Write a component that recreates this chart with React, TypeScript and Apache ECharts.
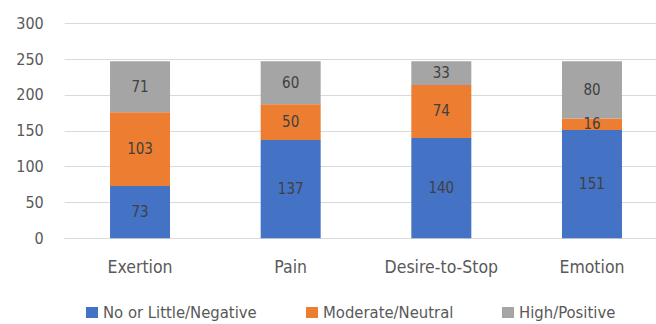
import React, { useEffect, useRef } from "react";
import * as echarts from "echarts";

const categories = ["Exertion", "Pain", "Desire-to-Stop", "Emotion"];
const seriesNames = ["No or Little/Negative", "Moderate/Neutral", "High/Positive"];
const lowValues = [73, 137, 140, 151];
const moderateValues = [103, 50, 74, 16];
const highValues = [71, 60, 33, 80];
const yTicks = { min: 0, max: 300, interval: 50 };

const FONT = "'DejaVu Sans Condensed', 'Liberation Sans Narrow', sans-serif";
const colors = ["#4472C4", "#ED7D31", "#A5A5A5"];
const legendLefts = [86, 306, 502];

export default function App() {
  const ref = useRef<HTMLDivElement>(null);
  useEffect(() => {
    if (!ref.current) return;
    const chart = echarts.init(ref.current, null, { renderer: "svg" });
    const values = [lowValues, moderateValues, highValues];
    chart.setOption({
      animation: false,
      color: colors,
      textStyle: { fontFamily: FONT },
      grid: { left: 64.7, right: 12.7, top: 23.3, bottom: 85.7, containLabel: false },
      legend: seriesNames.map((name, i) => ({
        left: legendLefts[i],
        top: 304,
        itemWidth: 12,
        itemHeight: 11,
        itemGap: 0,
        padding: 0,
        icon: "rect",
        textStyle: { fontFamily: FONT, fontSize: 16.5, color: "#595959" },
        data: [name],
      })),
      xAxis: {
        type: "category",
        data: categories,
        axisLine: { lineStyle: { color: "#D9D9D9" } },
        axisTick: { show: false },
        axisLabel: { color: "#595959", fontSize: 17.5, margin: 20, interval: 0, fontFamily: FONT },
      },
      yAxis: {
        type: "value",
        min: yTicks.min,
        max: yTicks.max,
        interval: yTicks.interval,
        axisLine: { show: false },
        axisTick: { show: false },
        splitLine: { lineStyle: { color: "#D9D9D9", width: 1 } },
        axisLabel: { color: "#595959", fontSize: 16, margin: 21, fontFamily: FONT },
      },
      series: seriesNames.map((name, i) => ({
        name,
        type: "bar",
        stack: "total",
        barWidth: 60,
        data: values[i],
        label: {
          show: true,
          position: "inside",
          color: "#404040",
          fontSize: 15,
          fontFamily: FONT,
        },
      })),
    });
    return () => chart.dispose();
  }, []);
  return (
    <div style={{ position: "absolute", left: 0, top: 0, width: 656, height: 324, overflow: "hidden", background: "#fff" }}>
      <div ref={ref} style={{ width: 680, height: 324 }} />
    </div>
  );
}
